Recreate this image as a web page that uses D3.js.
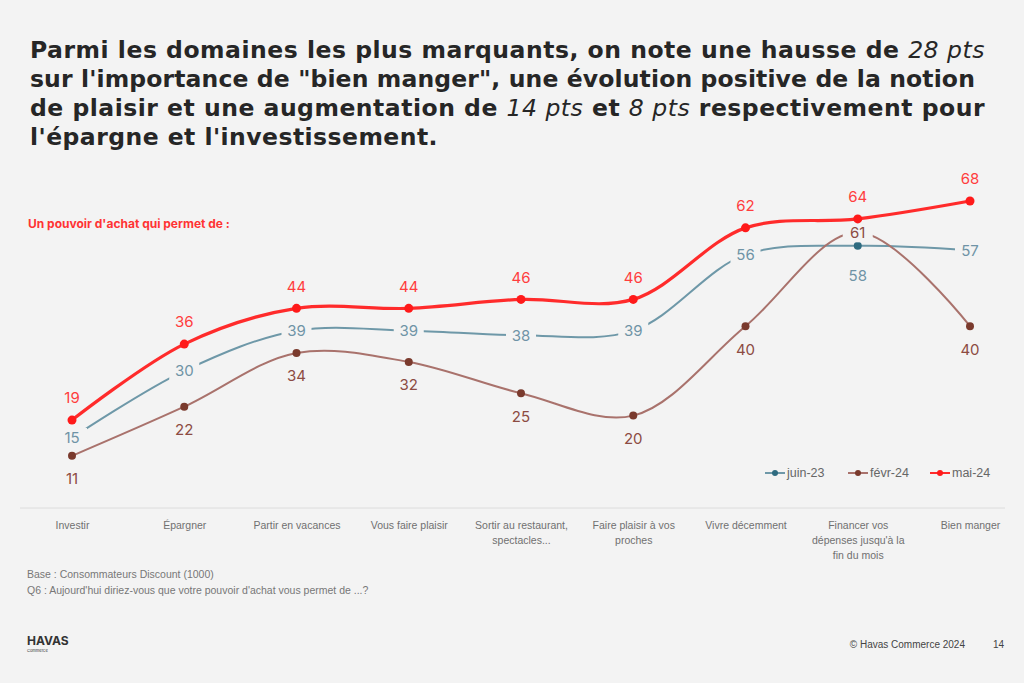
<!DOCTYPE html>
<html>
<head>
<meta charset="utf-8">
<title>Pouvoir d'achat</title>
<script src="https://d3js.org/d3.v7.min.js"></script>
<style>
body { margin:0; background:#f3f3f3; }
svg { display:block; }
</style>
</head>
<body>
<div id="chart"></div>
<script>
var categories = ["Investir", "Épargner", "Partir en vacances", "Vous faire plaisir",
  "Sortir au restaurant, spectacles...", "Faire plaisir à vos proches", "Vivre décemment",
  "Financer vos dépenses jusqu'à la fin du mois", "Bien manger"];
var tickLabels = [["Investir"], ["Épargner"], ["Partir en vacances"], ["Vous faire plaisir"],
  ["Sortir au restaurant,", "spectacles..."], ["Faire plaisir à vos", "proches"], ["Vivre décemment"],
  ["Financer vos", "dépenses jusqu'à la", "fin du mois"], ["Bien manger"]];
var seriesNames = ["juin-23", "févr-24", "mai-24"];
var juin23 = [15, 30, 39, 39, 38, 39, 56, 58, 57];
var fevr24 = [11, 22, 34, 32, 25, 20, 40, 61, 40];
var mai24 = [19, 36, 44, 44, 46, 46, 62, 64, 68];

var W = 1024, H = 683;
var svg = d3.select("#chart").append("svg").attr("width", W).attr("height", H);
svg.append("rect").attr("width", W).attr("height", H).attr("fill", "#f3f3f3");

// title, each line fitted to the width it has on the slide
var titleLines = [
  [["Parmi les domaines les plus marquants, on note une hausse de ", 0], ["28 pts", 1]],
  [["sur l'importance de \"bien manger\", une évolution positive de la notion", 0]],
  [["de plaisir et une augmentation de ", 0], ["14 pts", 1], [" et ", 0], ["8 pts", 1], [" respectivement pour", 0]],
  [["l'épargne et l'investissement.", 0]]
];
var titleWidths = [955, 945, 955, 408];
titleLines.forEach(function(line, i) {
  var t = svg.append("text").attr("x", 30).attr("y", 58 + i * 29)
    .style("font-family", "'DejaVu Sans', sans-serif").style("font-weight", 700)
    .style("font-size", "23.5px").attr("fill", "#262626");
  line.forEach(function(part) {
    var ts = t.append("tspan").text(part[0]);
    if (part[1]) ts.style("font-style", "italic").style("font-weight", 400);
  });
  var w = t.node().getComputedTextLength();
  var n = line.map(function(p) { return p[0]; }).join("").length;
  t.style("letter-spacing", ((titleWidths[i] - w) / n) + "px");
});

svg.append("text").attr("x", 28).attr("y", 228)
  .style("font-family", "Inter, sans-serif").style("font-weight", 700).style("font-size", "12px")
  .attr("fill", "#ff3333").text("Un pouvoir d'achat qui permet de :");

var x = d3.scalePoint().domain(categories).range([72, 970]);
var y = d3.scaleLinear().domain([0, 100]).range([505, 58]);

// baseline
svg.append("line").attr("x1", 20).attr("x2", 1005).attr("y1", 508).attr("y2", 508)
  .attr("stroke", "#dcdcdc").attr("stroke-width", 1);

var xAxis = svg.append("g").attr("transform", "translate(0,508)")
  .call(d3.axisBottom(x).tickSize(0).tickFormat(""));
xAxis.select(".domain").remove();
xAxis.selectAll(".tick").each(function(d, i) {
  var t = d3.select(this).append("text").attr("y", 21).attr("fill", "#707070")
    .style("font-family", "'Liberation Sans Narrow', 'Liberation Sans', sans-serif")
    .style("font-size", "10.5px").attr("text-anchor", "middle");
  tickLabels[i].forEach(function(l, k) {
    t.append("tspan").attr("x", 0).attr("dy", k == 0 ? 0 : 15).text(l);
  });
});

var series = [
  {name: seriesNames[0], values: juin23, line: "#6e98a8", dot: "#2e6b80", label: "#6f93a6", width: 2, pos: ["c","c","c","c","c","c","c","b","c"]},
  {name: seriesNames[1], values: fevr24, line: "#a9726c", dot: "#7a3a2d", label: "#8c4b42", width: 2, pos: ["b","b","b","b","b","b","b","c","b"]},
  {name: seriesNames[2], values: mai24, line: "#ff2b2b", dot: "#ff1a1a", label: "#ff3d3d", width: 3.2, pos: ["a","a","a","a","a","a","a","a","a"]}
];

var line = d3.line().curve(d3.curveCatmullRom.alpha(0.5))
  .x(function(d, i) { return x(categories[i]); })
  .y(function(d) { return y(d); });

series.forEach(function(s) {
  var g = svg.append("g");
  g.append("path").datum(s.values).attr("d", line).attr("fill", "none")
    .attr("stroke", s.line).attr("stroke-width", s.width);
  g.selectAll("circle").data(s.values).enter().append("circle")
    .attr("cx", function(d, i) { return x(categories[i]); })
    .attr("cy", function(d) { return y(d); })
    .attr("r", s.width > 3 ? 4.5 : 4).attr("fill", s.dot)
    .style("display", function(d, i) { return s.pos[i] == "c" ? "none" : null; });
  var lg = g.selectAll("g.lab").data(s.values).enter().append("g")
    .attr("transform", function(d, i) {
      var dy = s.pos[i] == "a" ? -22 : (s.pos[i] == "b" ? (s.name == "juin-23" ? 30 : 23) : 0);
      return "translate(" + x(categories[i]) + "," + (y(d) + dy) + ")";
    });
  lg.filter(function(d, i) { return s.pos[i] == "c"; }).append("rect")
    .attr("x", -15).attr("y", -10).attr("width", 30).attr("height", 20).attr("fill", "#f3f3f3");
  lg.append("text").attr("text-anchor", "middle").attr("dy", "0.36em")
    .style("font-family", "Inter, 'Open Sans', sans-serif").style("font-size", "15px")
    .attr("fill", s.label).text(function(d) { return d; });
});

// legend
var legX = [765, 848, 930];
var legend = svg.append("g").attr("transform", "translate(0,473)");
series.forEach(function(s, i) {
  var lg = legend.append("g").attr("transform", "translate(" + legX[i] + ",0)");
  lg.append("line").attr("x1", 0).attr("x2", 20).attr("stroke", s.line).attr("stroke-width", 2);
  lg.append("circle").attr("cx", 10).attr("r", 3).attr("fill", s.dot);
  lg.append("text").attr("x", 22).attr("dy", "0.35em").attr("fill", "#666")
    .style("font-family", "'Liberation Sans Narrow', 'Liberation Sans', sans-serif")
    .style("font-size", "12.5px").text(s.name);
});

// footnotes
var foot = svg.append("g").style("font-family", "'Liberation Sans Narrow', 'Liberation Sans', sans-serif")
  .style("font-size", "10.5px").attr("fill", "#777");
foot.append("text").attr("x", 27).attr("y", 578).text("Base : Consommateurs Discount (1000)");
foot.append("text").attr("x", 27).attr("y", 594).text("Q6 : Aujourd'hui diriez-vous que votre pouvoir d'achat vous permet de ...?");

svg.append("text").attr("x", 27).attr("y", 645).style("font-family", "Inter, sans-serif")
  .style("font-weight", 700).style("font-size", "12px").attr("fill", "#333").text("HAVAS");
svg.append("text").attr("x", 27).attr("y", 652).style("font-family", "Inter, sans-serif")
  .style("font-size", "4px").attr("fill", "#333").text("Commerce");
svg.append("text").attr("x", 965).attr("y", 648).attr("text-anchor", "end")
  .style("font-family", "'Liberation Sans Narrow', 'Liberation Sans', sans-serif")
  .style("font-size", "10px").attr("fill", "#444").text("© Havas Commerce 2024");
svg.append("text").attr("x", 993).attr("y", 648)
  .style("font-family", "'Liberation Sans Narrow', 'Liberation Sans', sans-serif")
  .style("font-size", "10px").attr("fill", "#444").text("14");
</script>
</body>
</html>
